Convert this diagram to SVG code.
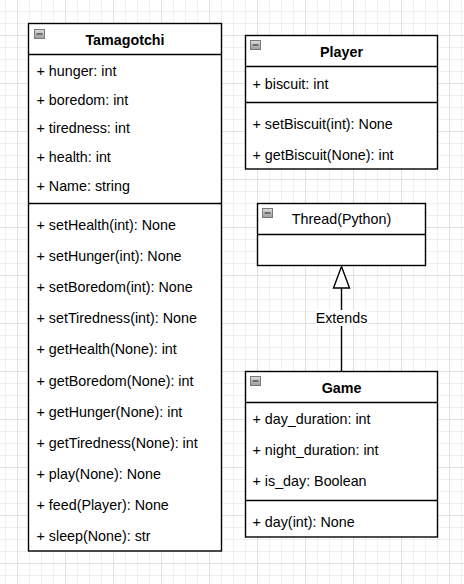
<svg xmlns="http://www.w3.org/2000/svg" width="464" height="584" viewBox="0 0 464 584">
<style>
.box{fill:#fff;stroke:#000;stroke-width:1.4}
.ln{stroke:#000;stroke-width:1.4;fill:none}
.t{font-family:"Liberation Sans",Arial,sans-serif;font-size:14.3px;fill:#000}
.b{font-weight:bold;text-anchor:middle}
.c{text-anchor:middle}
.ic{fill:url(#ig);stroke:#7a7a7a;stroke-width:1}
.im{stroke:#555;stroke-width:1.5}
</style>
<defs>
<pattern id="grid" patternUnits="userSpaceOnUse" x="17" y="35" width="48" height="48">
<path d="M12.5 0V48M24.5 0V48M36.5 0V48M0 12.5H48M0 24.5H48M0 36.5H48" stroke="#f0f0f0" stroke-width="1"/>
<path d="M0.5 0V48M0 0.5H48" stroke="#e0e0e0" stroke-width="1"/>
</pattern>
<linearGradient id="ig" x1="0" y1="0" x2="0" y2="1">
<stop offset="0" stop-color="#dcdcdc"/>
<stop offset="1" stop-color="#9c9c9c"/>
</linearGradient>
</defs>
<rect width="464" height="584" fill="#fff"/>
<rect width="464" height="584" fill="url(#grid)"/>

<g id="connectors">
<line class="ln" x1="341.5" y1="288" x2="341.5" y2="371.5"/>
<polygon points="341.5,266.5 333.5,288 349.5,288" fill="#fff" stroke="#000" stroke-width="1.4"/>
<rect x="316" y="310" width="52" height="16" fill="#fff"/>
<text class="t c" x="341.5" y="323">Extends</text>
</g>

<g id="tamagotchi">
<rect class="box" x="28.5" y="23.5" width="193" height="527.5"/>
<line class="ln" x1="28.5" y1="54.5" x2="221.5" y2="54.5"/>
<line class="ln" x1="28.5" y1="203.5" x2="221.5" y2="203.5"/>
<rect class="ic" x="34.5" y="29.5" width="10" height="9"/>
<line class="im" x1="36.5" y1="34" x2="42.5" y2="34"/>
<text class="t b" x="125" y="45">Tamagotchi</text>
<text class="t" x="36.5" y="76">+ hunger: int</text>
<text class="t" x="36.5" y="105">+ boredom: int</text>
<text class="t" x="36.5" y="133">+ tiredness: int</text>
<text class="t" x="36.5" y="162">+ health: int</text>
<text class="t" x="36.5" y="191">+ Name: string</text>
<text class="t" x="36.5" y="229.5">+ setHealth(int): None</text>
<text class="t" x="36.5" y="261">+ setHunger(int): None</text>
<text class="t" x="36.5" y="292">+ setBoredom(int): None</text>
<text class="t" x="36.5" y="323">+ setTiredness(int): None</text>
<text class="t" x="36.5" y="354">+ getHealth(None): int</text>
<text class="t" x="36.5" y="385.5">+ getBoredom(None): int</text>
<text class="t" x="36.5" y="417">+ getHunger(None): int</text>
<text class="t" x="36.5" y="448">+ getTiredness(None): int</text>
<text class="t" x="36.5" y="479">+ play(None): None</text>
<text class="t" x="36.5" y="510">+ feed(Player): None</text>
<text class="t" x="36.5" y="541">+ sleep(None): str</text>
</g>

<g id="player">
<rect class="box" x="245.5" y="35.5" width="192" height="133.5"/>
<line class="ln" x1="245.5" y1="66.5" x2="437.5" y2="66.5"/>
<line class="ln" x1="245.5" y1="102.5" x2="437.5" y2="102.5"/>
<rect class="ic" x="250.5" y="40.5" width="10" height="9"/>
<line class="im" x1="252.5" y1="45" x2="258.5" y2="45"/>
<text class="t b" x="341.5" y="56.5">Player</text>
<text class="t" x="252.5" y="88.5">+ biscuit: int</text>
<text class="t" x="252.5" y="129">+ setBiscuit(int): None</text>
<text class="t" x="252.5" y="160">+ getBiscuit(None): int</text>
</g>

<g id="thread">
<rect class="box" x="257.5" y="203.5" width="168" height="62"/>
<line class="ln" x1="257.5" y1="234.5" x2="425.5" y2="234.5"/>
<rect class="ic" x="262.5" y="208.5" width="10" height="9"/>
<line class="im" x1="264.5" y1="213" x2="270.5" y2="213"/>
<text class="t c" x="341.5" y="224">Thread(Python)</text>
</g>

<g id="game">
<rect class="box" x="245.5" y="371.5" width="192" height="165.5"/>
<line class="ln" x1="245.5" y1="402.5" x2="437.5" y2="402.5"/>
<line class="ln" x1="245.5" y1="500.5" x2="437.5" y2="500.5"/>
<rect class="ic" x="250.5" y="376.5" width="10" height="9"/>
<line class="im" x1="252.5" y1="381" x2="258.5" y2="381"/>
<text class="t b" x="341.5" y="393">Game</text>
<text class="t" x="252.5" y="424">+ day_duration: int</text>
<text class="t" x="252.5" y="455">+ night_duration: int</text>
<text class="t" x="252.5" y="486">+ is_day: Boolean</text>
<text class="t" x="252.5" y="526.5">+ day(int): None</text>
</g>
</svg>
